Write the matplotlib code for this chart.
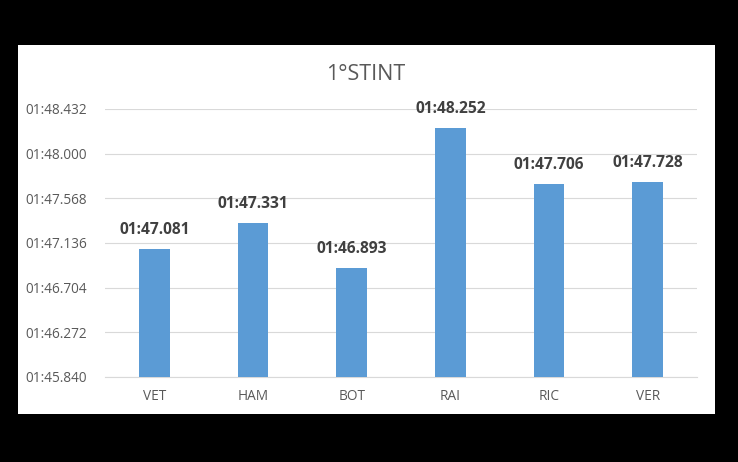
import matplotlib
matplotlib.use('Agg')
import matplotlib.pyplot as plt
from matplotlib.ticker import FuncFormatter

plt.rcParams['font.family'] = ['Open Sans', 'DejaVu Sans']

drivers = ['VET', 'HAM', 'BOT', 'RAI', 'RIC', 'VER']
# lap times in seconds
lap_times = [107.081, 107.331, 106.893, 108.252, 107.706, 107.728]
y_min, y_max, y_step = 105.840, 108.432, 0.432


def fmt_time(t, pos=None):
    m = int(t // 60)
    s = t - m * 60
    return f'{m:02d}:{s:06.3f}'


fig = plt.figure(figsize=(7.38, 4.62), dpi=100, facecolor='black')

# white chart panel on the black background
panel = fig.add_axes([18 / 738, 1 - 414 / 462, 697 / 738, 369 / 462], zorder=0)
panel.set_facecolor('white')
panel.set_xticks([])
panel.set_yticks([])
for s in panel.spines.values():
    s.set_visible(False)

ax = fig.add_axes([105 / 738, 1 - 377 / 462, 592 / 738, 268 / 462], zorder=1)
ax.set_facecolor('none')

x = range(len(drivers))
bars = ax.bar(x, lap_times, width=0.31, color='#5b9bd5', zorder=3)

ax.set_xlim(-0.5, len(drivers) - 0.5)
ax.set_ylim(y_min, y_max)
ax.set_yticks([y_min + i * y_step for i in range(7)])
ax.yaxis.set_major_formatter(FuncFormatter(fmt_time))
ax.set_xticks(list(x))
ax.set_xticklabels(drivers)

ax.grid(axis='y', color='#d9d9d9', linewidth=0.8, zorder=0)
for side in ['top', 'right', 'left']:
    ax.spines[side].set_visible(False)
ax.spines['bottom'].set_color('#d9d9d9')
ax.tick_params(length=0, colors='#595959', labelsize=9.8)
ax.tick_params(axis='x', pad=9)
ax.tick_params(axis='y', pad=13)

for b, t in zip(bars, lap_times):
    ax.annotate(fmt_time(t), (b.get_x() + b.get_width() / 2, t),
                xytext=(0, 8), textcoords='offset points', ha='center',
                va='bottom', fontsize=11.2, fontweight='bold', color='#404040')

fig.text(366 / 738, 1 - 75 / 462, '1°STINT', ha='center', va='center',
         fontsize=15.5, color='#595959', zorder=2)

fig.savefig('out.png', dpi=100, facecolor='black')
